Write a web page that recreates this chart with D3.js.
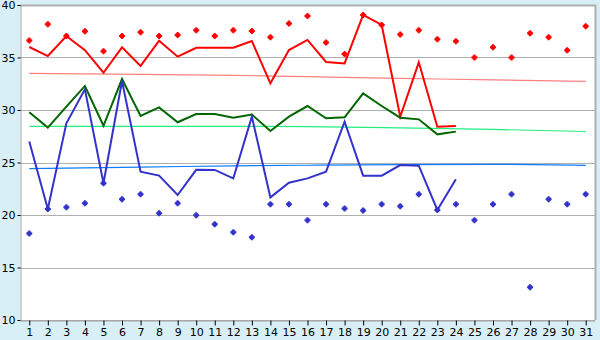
<!DOCTYPE html>
<html><head><meta charset="utf-8">
<script src="https://cdn.jsdelivr.net/npm/d3@7"></script>
<style>
html,body{margin:0;padding:0;background:#d9eff6;}
svg{display:block;}
text{font-family:"DejaVu Sans",Verdana,sans-serif;font-size:11px;fill:#000;}
</style></head>
<body>
<svg id="c" width="600" height="340"></svg>
<script>
const days = d3.range(1, 32);
const yTicks = [10, 15, 20, 25, 30, 35, 40];

const maxLine = [36.0,35.14,37.05,35.7,33.55,35.97,34.2,36.6,35.08,35.93,35.93,35.93,36.57,32.54,35.71,36.67,34.57,34.44,39.05,38.1,29.36,34.54,28.4,28.48];
const avgLine = [29.78,28.32,30.32,32.29,28.5,32.95,29.43,30.25,28.83,29.62,29.62,29.27,29.56,28.0,29.37,30.38,29.21,29.3,31.59,30.38,29.27,29.11,27.68,27.94];
const minLine = [27.0,20.57,28.73,31.97,23.02,32.76,24.13,23.75,21.9,24.3,24.29,23.49,29.37,21.68,23.08,23.49,24.13,28.89,23.75,23.75,24.76,24.7,20.48,23.4];

const maxPoints = [36.63,38.16,37.05,37.49,35.59,37.05,37.4,37.05,37.14,37.59,37.05,37.59,37.52,36.92,38.25,38.95,36.44,35.33,39.05,38.1,37.2,37.59,36.73,36.54,35.0,35.97,35.0,37.3,36.92,35.68,37.97];
const minPoints = [18.25,20.57,20.73,21.11,23.02,21.49,21.97,20.16,21.11,19.97,19.11,18.35,17.87,21.02,21.02,19.49,21.02,20.63,20.44,21.02,20.83,21.97,20.48,21.02,19.49,21.02,21.97,13.11,21.49,21.02,21.97];

const trendDays = [1, 7, 12, 16, 21, 26, 31];
const maxTrend = [33.49, 33.4, 33.3, 33.17, 33.02, 32.86, 32.73];
const avgTrend = [28.45, 28.45, 28.45, 28.42, 28.3, 28.15, 27.95];
const minTrend = [24.41, 24.56, 24.68, 24.74, 24.8, 24.82, 24.73];

const svg = d3.select("#c");
const L = 20, R = 595, T = 5, B = 320;

const x = d3.scalePoint().domain(days).range([L, R]).padding(0.5);
const y = d3.scaleLinear().domain([10, 40]).range([B, T]);

svg.append("rect").attr("x", L).attr("y", T).attr("width", R - L).attr("height", B - T).attr("fill", "#fff");

// gridlines
svg.append("g").selectAll("line").data(yTicks).join("line")
  .attr("x1", L).attr("x2", R)
  .attr("y1", d => Math.round(y(d)) + 0.5).attr("y2", d => Math.round(y(d)) + 0.5)
  .attr("stroke", "#b0b0b0").attr("stroke-width", 1);
// right border
svg.append("line").attr("x1", R + 0.5).attr("x2", R + 0.5).attr("y1", T).attr("y2", B)
  .attr("stroke", "#b0b0b0").attr("stroke-width", 2);
svg.append("line").attr("x1", L).attr("x2", R + 1).attr("y1", T + 0.5).attr("y2", T + 0.5)
  .attr("stroke", "#b0b0b0").attr("stroke-width", 2);

// axes
const yAxis = d3.axisLeft(y).tickValues(yTicks).tickSize(3).tickPadding(2).tickFormat(d3.format("d"));
const gy = svg.append("g").attr("transform", `translate(${L + 0.5},0)`).call(yAxis);
gy.select(".domain").attr("stroke", "#a0a0a0");
gy.selectAll(".tick line").attr("stroke", "#000");
gy.selectAll("text").style("font-size", "11px").attr("fill", "#000");

const xAxis = d3.axisBottom(x).tickSize(5).tickPadding(3).tickSizeOuter(0);
const gx = svg.append("g").attr("transform", `translate(0,${B + 0.5})`).call(xAxis);
gx.select(".domain").attr("stroke", "#a0a0a0").attr("d", `M${L},0.5H${R}`);
gx.selectAll(".tick line").attr("stroke", "#000");
gx.selectAll("text").style("font-size", "11px").attr("fill", "#000");

// trend lines
const tl = d3.line().x((d, i) => x(trendDays[i])).y(d => y(d)).curve(d3.curveMonotoneX);
svg.append("path").datum(maxTrend).attr("d", tl).attr("fill", "none").attr("stroke", "#ff8080").attr("stroke-width", 1.2);
svg.append("path").datum(avgTrend).attr("d", tl).attr("fill", "none").attr("stroke", "#22ee80").attr("stroke-width", 1.2);
svg.append("path").datum(minTrend).attr("d", tl).attr("fill", "none").attr("stroke", "#0a7eff").attr("stroke-width", 1.2);

// main lines
const ln = d3.line().x((d, i) => x(days[i])).y(d => y(d));
svg.append("path").datum(maxLine).attr("d", ln).attr("fill", "none").attr("stroke", "#ff0000").attr("stroke-width", 2);
svg.append("path").datum(avgLine).attr("d", ln).attr("fill", "none").attr("stroke", "#006600").attr("stroke-width", 2);
svg.append("path").datum(minLine).attr("d", ln).attr("fill", "none").attr("stroke", "#3333cc").attr("stroke-width", 2);

// markers
const marker = "M-1,-3H1V-2H2V-1H3V1H2V2H1V3H-1V2H-2V1H-3V-1H-2V-2H-1Z";
svg.append("g").selectAll("path").data(maxPoints).join("path")
  .attr("d", marker).attr("transform", (d, i) => `translate(${x(days[i])},${y(d)})`).attr("fill", "#ff0000");
svg.append("g").selectAll("path").data(minPoints).join("path")
  .attr("d", marker).attr("transform", (d, i) => `translate(${x(days[i])},${y(d)})`).attr("fill", "#3333cc");
</script>
</body></html>
